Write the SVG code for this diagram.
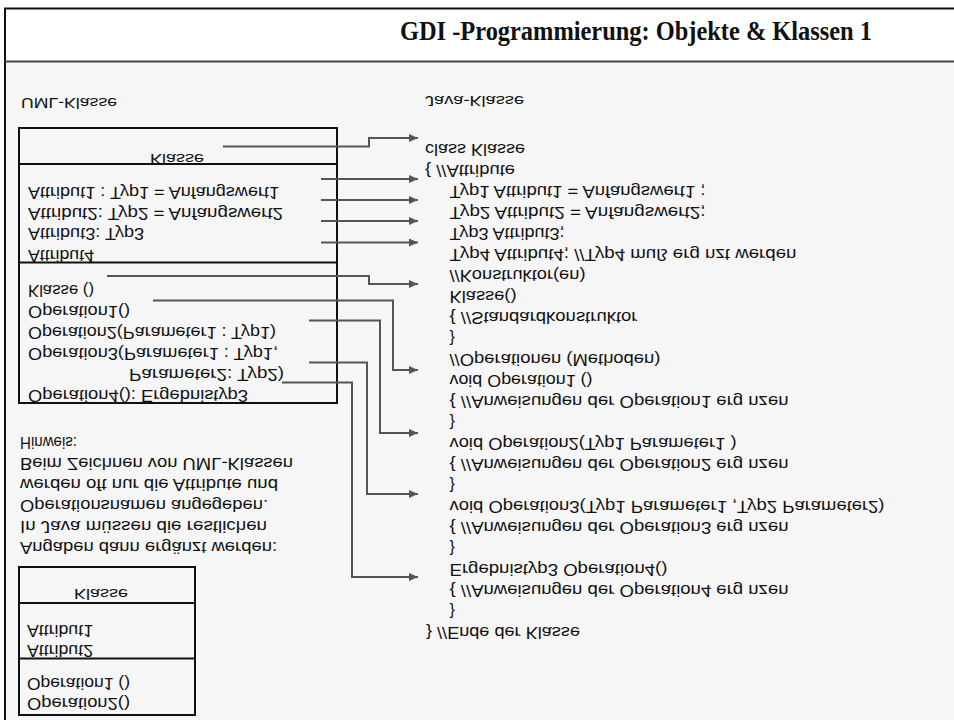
<svg xmlns="http://www.w3.org/2000/svg" width="954" height="720" viewBox="0 0 954 720">
  <style>
    .frame { fill: none; stroke: #111; stroke-width: 2; }
    .box { fill: none; stroke: #111; stroke-width: 2; }
    .sep { stroke: #111; stroke-width: 2; }
    .title { font-family: "Liberation Serif", "Times New Roman", serif; font-weight: bold; font-size: 27px; fill: #111; }
    .t { font-family: "Liberation Sans", Arial, sans-serif; font-size: 16px; fill: #111; }
    .h { font-family: "Liberation Sans", Arial, sans-serif; font-size: 14.5px; fill: #111; }
    .conn { fill: none; stroke: #555; stroke-width: 2; }
  </style>
  <defs>
    <marker id="arrow" viewBox="0 0 9 8" refX="9" refY="4" markerWidth="9" markerHeight="8" markerUnits="userSpaceOnUse" orient="auto">
      <path d="M0,0 L9,4 L0,8 z" fill="#555"/>
    </marker>
  </defs>

  <!-- page -->
  <rect x="0" y="0" width="954" height="720" fill="#ffffff"/>
  <rect x="5" y="62" width="955" height="670" fill="#f6f6f6"/>
  <rect class="frame" x="5" y="8.5" width="960" height="720"/>
  <line x1="5" y1="61.5" x2="954" y2="61.5" stroke="#444" stroke-width="2"/>

  <g id="title">
    <text class="title" x="400" y="40" textLength="472" lengthAdjust="spacingAndGlyphs">GDI -Programmierung: Objekte &amp; Klassen 1</text>
  </g>

  <!-- UML class with all compartments (text lines are mirrored top to bottom) -->
  <g id="uml-klasse">
    <rect class="box" x="19" y="128" width="318" height="275"/>
    <line class="sep" x1="19" y1="164" x2="337" y2="164"/>
    <line class="sep" x1="19" y1="262.5" x2="337" y2="262.5"/>
    <g transform="scale(1,-1)">
      <text class="h" x="21" y="-97.5" textLength="96" lengthAdjust="spacingAndGlyphs">UML-Klasse</text>
      <text class="h" x="150" y="-153.5" textLength="54" lengthAdjust="spacingAndGlyphs">Klasse</text>
      <text class="t" x="28" y="-187.3" textLength="251" lengthAdjust="spacingAndGlyphs">Attribut1 : Typ1 = Anfangswert1</text>
      <text class="t" x="28" y="-207.8" textLength="255" lengthAdjust="spacingAndGlyphs">Attribut2: Typ2 = Anfangswert2</text>
      <text class="t" x="28" y="-228.3" textLength="116" lengthAdjust="spacingAndGlyphs">Attribut3: Typ3</text>
      <text class="t" x="28" y="-250.3" textLength="66" lengthAdjust="spacingAndGlyphs">Attribut4</text>
      <text class="t" x="28" y="-285.3" textLength="66" lengthAdjust="spacingAndGlyphs">Klasse ()</text>
      <text class="t" x="28" y="-306.3" textLength="102" lengthAdjust="spacingAndGlyphs">Operation1()</text>
      <text class="t" x="28" y="-327.3" textLength="248" lengthAdjust="spacingAndGlyphs">Operation2(Parameter1 : Typ1)</text>
      <text class="t" x="28" y="-348.3" textLength="250" lengthAdjust="spacingAndGlyphs">Operation3(Parameter1 : Typ1,</text>
      <text class="t" x="129" y="-369.3" textLength="155" lengthAdjust="spacingAndGlyphs">Parameter2: Typ2)</text>
      <text class="t" x="28" y="-390.3" textLength="220" lengthAdjust="spacingAndGlyphs">Operation4(): Ergebnistyp3</text>
    </g>
  </g>

  <!-- note below the UML class -->
  <g id="hinweis">
    <g transform="scale(1,-1)">
      <text class="t" x="20" y="-437.3" textLength="57" lengthAdjust="spacingAndGlyphs">Hinweis:</text>
      <text class="t" x="20" y="-458.3" textLength="273" lengthAdjust="spacingAndGlyphs">Beim Zeichnen von UML-Klassen</text>
      <text class="t" x="20" y="-479.3" textLength="258" lengthAdjust="spacingAndGlyphs">werden oft nur die Attribute und</text>
      <text class="t" x="20" y="-500.3" textLength="248" lengthAdjust="spacingAndGlyphs">Operationsnamen angegeben.</text>
      <text class="t" x="20" y="-521.3" textLength="247" lengthAdjust="spacingAndGlyphs">In Java müssen die restlichen</text>
      <text class="t" x="20" y="-542.3" textLength="257" lengthAdjust="spacingAndGlyphs">Angaben dann ergänzt werden:</text>
    </g>
  </g>

  <!-- short UML class -->
  <g id="uml-klasse-kurz">
    <rect class="box" x="19" y="567" width="176" height="148"/>
    <line class="sep" x1="19" y1="603" x2="195" y2="603"/>
    <line class="sep" x1="19" y1="658.5" x2="195" y2="658.5"/>
    <g transform="scale(1,-1)">
      <text class="h" x="74" y="-588.5" textLength="54" lengthAdjust="spacingAndGlyphs">Klasse</text>
      <text class="t" x="27" y="-625.3" textLength="66" lengthAdjust="spacingAndGlyphs">Attribut1</text>
      <text class="t" x="27" y="-645.3" textLength="66" lengthAdjust="spacingAndGlyphs">Attribut2</text>
      <text class="t" x="27" y="-678.3" textLength="103" lengthAdjust="spacingAndGlyphs">Operation1 ()</text>
      <text class="t" x="27" y="-698.3" textLength="103" lengthAdjust="spacingAndGlyphs">Operation2()</text>
    </g>
  </g>

  <!-- Java source of the class (mirrored top to bottom like the UML side) -->
  <g id="java-klasse">
    <g transform="scale(1,-1)">
      <text class="h" x="425" y="-95.5" textLength="99" lengthAdjust="spacingAndGlyphs">Java-Klasse</text>
      <text class="t" x="425" y="-144.3" textLength="100" lengthAdjust="spacingAndGlyphs">class Klasse</text>
      <text class="t" x="425" y="-165.3" textLength="90" lengthAdjust="spacingAndGlyphs">{ //Attribute</text>
      <text class="t" x="449.5" y="-186.3" textLength="256" lengthAdjust="spacingAndGlyphs">Typ1 Attribut1 = Anfangswert1 ;</text>
      <text class="t" x="449.5" y="-207.3" textLength="256" lengthAdjust="spacingAndGlyphs">Typ2 Attribut2 = Anfangswert2;</text>
      <text class="t" x="449.5" y="-228.3" textLength="115" lengthAdjust="spacingAndGlyphs">Typ3 Attribut3;</text>
      <text class="t" x="449.5" y="-249.3" textLength="347" lengthAdjust="spacingAndGlyphs">Typ4 Attribut4; //Typ4 muß erg nzt werden</text>
      <text class="t" x="449.5" y="-270.3" textLength="136" lengthAdjust="spacingAndGlyphs">//Konstruktor(en)</text>
      <text class="t" x="449.5" y="-291.3" textLength="67" lengthAdjust="spacingAndGlyphs">Klasse()</text>
      <text class="t" x="449.5" y="-312.3" textLength="188" lengthAdjust="spacingAndGlyphs">{ //Standardkonstruktor</text>
      <text class="t" x="449.5" y="-333.3">}</text>
      <text class="t" x="449.5" y="-354.3" textLength="211" lengthAdjust="spacingAndGlyphs">//Operationen (Methoden)</text>
      <text class="t" x="449.5" y="-375.3" textLength="143" lengthAdjust="spacingAndGlyphs">void Operation1 ()</text>
      <text class="t" x="449.5" y="-396.3" textLength="339" lengthAdjust="spacingAndGlyphs">{ //Anweisungen der Operation1 erg nzen</text>
      <text class="t" x="449.5" y="-417.3">}</text>
      <text class="t" x="449.5" y="-438.3" textLength="287" lengthAdjust="spacingAndGlyphs">void Operation2(Typ1 Parameter1 )</text>
      <text class="t" x="449.5" y="-459.3" textLength="339" lengthAdjust="spacingAndGlyphs">{ //Anweisungen der Operation2 erg nzen</text>
      <text class="t" x="449.5" y="-480.3">}</text>
      <text class="t" x="449.5" y="-501.3" textLength="435" lengthAdjust="spacingAndGlyphs">void Operation3(Typ1 Parameter1 ,Typ2 Parameter2)</text>
      <text class="t" x="449.5" y="-522.3" textLength="339" lengthAdjust="spacingAndGlyphs">{ //Anweisungen der Operation3 erg nzen</text>
      <text class="t" x="449.5" y="-543.3">}</text>
      <text class="t" x="449.5" y="-564.3" textLength="218" lengthAdjust="spacingAndGlyphs">Ergebnistyp3 Operation4()</text>
      <text class="t" x="449.5" y="-585.3" textLength="339" lengthAdjust="spacingAndGlyphs">{ //Anweisungen der Operation4 erg nzen</text>
      <text class="t" x="449.5" y="-606.3">}</text>
      <text class="t" x="426" y="-627.3" textLength="154" lengthAdjust="spacingAndGlyphs">} //Ende der Klasse</text>
    </g>
  </g>

  <!-- mapping from UML elements to Java code -->
  <g id="connectors">
    <path class="conn" marker-end="url(#arrow)" d="M223,146.5 H369 V138 H418"/>
    <path class="conn" marker-end="url(#arrow)" d="M321,179 H418"/>
    <path class="conn" marker-end="url(#arrow)" d="M321,200 H418"/>
    <path class="conn" marker-end="url(#arrow)" d="M321,221 H418"/>
    <path class="conn" marker-end="url(#arrow)" d="M321,242.5 H418"/>
    <path class="conn" marker-end="url(#arrow)" d="M107,276 H369 V284 H418"/>
    <path class="conn" marker-end="url(#arrow)" d="M153,300.5 H393 V370 H418"/>
    <path class="conn" marker-end="url(#arrow)" d="M309,320.5 H380 V433 H418"/>
    <path class="conn" marker-end="url(#arrow)" d="M309,362.5 H367 V494 H418"/>
    <path class="conn" marker-end="url(#arrow)" d="M282,382.5 H352 V577 H418"/>
  </g>
</svg>
